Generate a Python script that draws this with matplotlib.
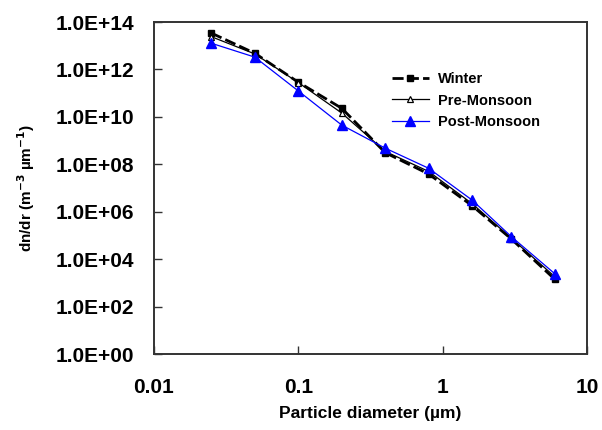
#!/usr/bin/env python3
"""Size distribution dn/dr vs particle diameter for three seasons (log-log)."""

import matplotlib

matplotlib.use("Agg")
import matplotlib.pyplot as plt
from matplotlib.ticker import FixedLocator, FuncFormatter, NullLocator

plt.rcParams["font.family"] = ["Liberation Sans", "DejaVu Sans"]
plt.rcParams["font.weight"] = "bold"

diameter = [0.025, 0.05, 0.1, 0.2, 0.4, 0.8, 1.6, 3.0, 6.0]
winter = [3.4e13, 4.8e12, 2.9e11, 2.3e10, 3.1e8, 3.9e7, 1.8e6, 7.0e4, 1.4e3]
pre_monsoon = [2.4e13, 4.5e12, 2.8e11, 1.45e10, 3.5e8, 5.0e7, 2.2e6, 7.5e4, 1.8e3]
post_monsoon = [1.27e13, 3.3e12, 1.24e11, 4.5e9, 4.8e8, 6.8e7, 3.1e6, 8.8e4, 2.4e3]

x_ticks = [0.01, 0.1, 1, 10]
x_tick_labels = ["0.01", "0.1", "1", "10"]
y_ticks = [1e0, 1e2, 1e4, 1e6, 1e8, 1e10, 1e12, 1e14]

fig = plt.figure(figsize=(6.02, 4.30), dpi=100)
ax = fig.add_axes([0.2558, 0.1767, 0.7192, 0.7721])

ax.plot(diameter, winter, color="black", lw=2.0, ls=(0, (4, 1.5)),
        marker="s", ms=5, mfc="black", mec="black", label="Winter")
ax.plot(diameter, pre_monsoon, color="black", lw=0.9,
        marker="^", ms=5, mfc="white", mec="black", mew=0.9, label="Pre-Monsoon")
ax.plot(diameter, post_monsoon, color="#0000ff", lw=0.9,
        marker="^", ms=7, mfc="#0000ff", mec="#0000ff", label="Post-Monsoon")

ax.set_xscale("log")
ax.set_yscale("log")
ax.set_xlim(0.01, 10)
ax.set_ylim(1e0, 1e14)

ax.xaxis.set_major_locator(FixedLocator(x_ticks))
ax.xaxis.set_major_formatter(FuncFormatter(lambda v, p: x_tick_labels[x_ticks.index(v)] if v in x_ticks else ""))
ax.xaxis.set_minor_locator(NullLocator())
ax.yaxis.set_major_locator(FixedLocator(y_ticks))
ax.yaxis.set_major_formatter(FuncFormatter(lambda v, p: f"{v:.1E}"))
ax.yaxis.set_minor_locator(NullLocator())

ax.tick_params(axis="both", direction="in", length=6, width=1.0, color="#333333",
               labelsize=15, pad=14)
ax.tick_params(axis="x", pad=17)
for spine in ax.spines.values():
    spine.set_linewidth(1.4)
    spine.set_color("#333333")

ax.set_xlabel("Particle diameter (\u00b5m)", fontsize=12.5, fontweight="bold")
ax.xaxis.set_label_coords(0.5, -0.178)
ax.xaxis.label.set_va("center")
ax.set_ylabel("dn/dr (m$^{\\mathbf{-3}}$ \u00b5m$^{\\mathbf{-1}}$)", fontsize=11, fontweight="bold")
ax.yaxis.set_label_coords(-0.295, 0.5)
ax.yaxis.label.set_va("center")

ax.legend(loc="upper left", bbox_to_anchor=(0.55, 0.85), frameon=False,
          borderpad=0, borderaxespad=0, handlelength=2.5,
          handletextpad=0.65, labelspacing=0.53, prop={"weight": "bold", "size": 10.5})

fig.savefig("out.png", dpi=100)
